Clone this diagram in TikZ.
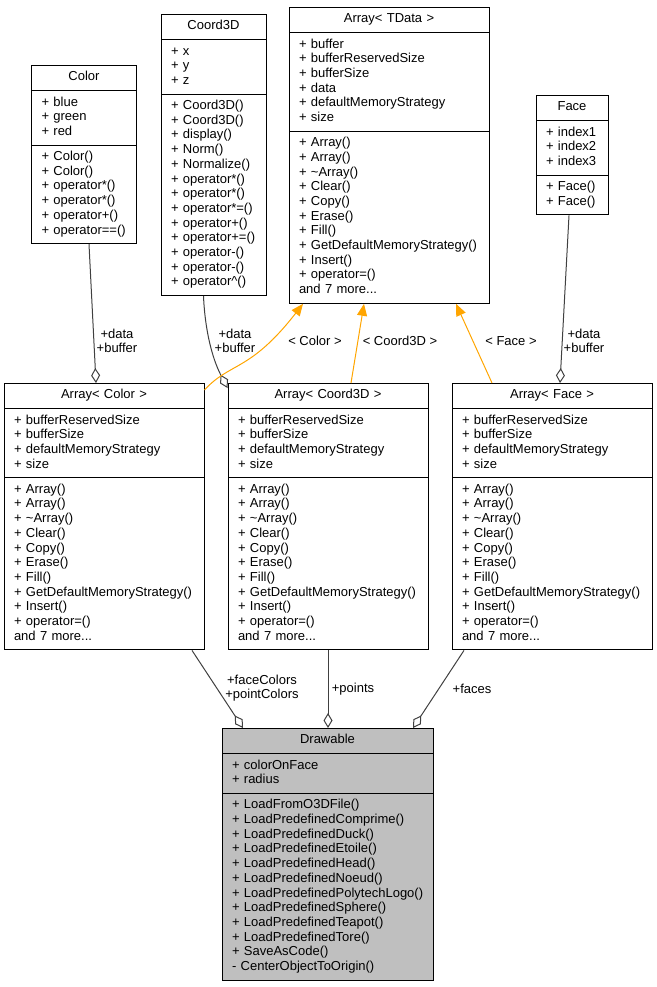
\documentclass[tikz,border=0pt]{standalone}
\usepackage{fontspec}
\setmainfont{Liberation Sans}
\usetikzlibrary{arrows.meta, shapes.multipart}

\definecolor{edgegray}{RGB}{64,64,64}
\definecolor{tmplorange}{RGB}{255,165,0}
\definecolor{boxgray}{RGB}{191,191,191}

\hyphenpenalty=10000
\exhyphenpenalty=10000

% title / attributes / methods
\newcommand{\umlparts}[3]{\makebox[\linewidth][c]{\strut#1}\nodepart{two}\strut#2\strut\nodepart{three}\strut#3\strut}
\newcommand{\arrmethods}{+ Array()\\+ Array()\\+ \textasciitilde Array()\\+ Clear()\\+ Copy()\\+ Erase()\\+ Fill()\\+ GetDefaultMemoryStrategy()\\+ Insert()\\+ operator=()\\and 7 more...}
\newcommand{\arrattrs}{+ bufferReservedSize\\+ bufferSize\\+ defaultMemoryStrategy\\+ size}

\begin{document}
\begin{tikzpicture}[x=1pt,y=-1pt,
  classbox/.style={rectangle split, rectangle split parts=3, draw=black, line width=1pt,
    inner xsep=10pt, inner ysep=4.7pt, text width=#1, align=left, anchor=north,
    font=\fontsize{13}{14.7}\selectfont},
  member/.style={draw=edgegray, line width=1pt, -{Diamond[open, length=15pt, width=9pt]}},
  inherit/.style={draw=tmplorange, line width=1pt, -{Triangle[length=12pt, width=10pt, fill=tmplorange]}},
  lbl/.style={align=center, inner sep=0pt, font=\fontsize{13}{14}\selectfont}]
\useasboundingbox (0,0) rectangle (656,987);

% classes
\node[classbox=85] (color) at (84,65)
  {\umlparts{Color}{+ blue\\+ green\\+ red}{+ Color()\\+ Color()\\+ operator*()\\+ operator*()\\+ operator+()\\+ operator==()}};
\node[classbox=85] (coord) at (213.5,14)
  {\umlparts{Coord3D}{+ x\\+ y\\+ z}{+ Coord3D()\\+ Coord3D()\\+ display()\\+ Norm()\\+ Normalize()\\+ operator*()\\+ operator*()\\+ operator*=()\\+ operator+()\\+ operator+=()\\+ operator-()\\+ operator-()\\+ operator\textasciicircum()}};
\node[classbox=180] (tdata) at (389,7)
  {\umlparts{Array< TData >}{+ buffer\\+ bufferReservedSize\\+ bufferSize\\+ data\\+ defaultMemoryStrategy\\+ size}{\arrmethods}};
\node[classbox=52] (face) at (572,95)
  {\umlparts{Face}{+ index1\\+ index2\\+ index3}{+ Face()\\+ Face()}};

\node[classbox=180] (arrColor) at (104,383) {\umlparts{Array< Color >}{\arrattrs}{\arrmethods}};
\node[classbox=180] (arrCoord) at (328,383) {\umlparts{Array< Coord3D >}{\arrattrs}{\arrmethods}};
\node[classbox=180] (arrFace) at (552,383) {\umlparts{Array< Face >}{\arrattrs}{\arrmethods}};

\node[classbox=197, inner xsep=7pt, fill=boxgray] (drawable) at (327.5,728)
  {\umlparts{Drawable}{\hspace{3pt}+ colorOnFace\\\hspace*{3pt}+ radius}{\hspace{3pt}+ LoadFromO3DFile()\\\hspace*{3pt}+ LoadPredefinedComprime()\\\hspace*{3pt}+ LoadPredefinedDuck()\\\hspace*{3pt}+ LoadPredefinedEtoile()\\\hspace*{3pt}+ LoadPredefinedHead()\\\hspace*{3pt}+ LoadPredefinedNoeud()\\\hspace*{3pt}+ LoadPredefinedPolytechLogo()\\\hspace*{3pt}+ LoadPredefinedSphere()\\\hspace*{3pt}+ LoadPredefinedTeapot()\\\hspace*{3pt}+ LoadPredefinedTore()\\\hspace*{3pt}+ SaveAsCode()\\\hspace*{3pt}- CenterObjectToOrigin()}};

% members
\draw[member] ([xshift=5]color.south) -- ([xshift=-8]arrColor.north);
\draw[member] ([xshift=-10]coord.south) .. controls (205,330) and (212,358) .. ([yshift=-5]arrCoord.north west);
\draw[member] ([xshift=-3]face.south) -- ([xshift=8]arrFace.north);
\draw[member] ([xshift=88]arrColor.south) -- ([xshift=-84.5]drawable.north);
\draw[member] (arrCoord.south) -- (arrCoord.south |- drawable.north);
\draw[member] ([xshift=-88]arrFace.south) -- ([xshift=85.5]drawable.north);

% template instances
\draw[inherit] ([yshift=-7]arrColor.north east) .. controls (230,362) and (250,372) .. ([xshift=-86]tdata.south);
\draw[inherit] ([xshift=23]arrCoord.north) -- ([xshift=-25]tdata.south);
\draw[inherit] ([xshift=-60]arrFace.north) -- ([xshift=67]tdata.south);

% labels
\node[lbl] (lblColorData) at (117,341) {+data\\+buffer};
\node[lbl] (lblCoordData) at (235,341) {+data\\+buffer};
\node[lbl] (lblFaceData) at (584,341) {+data\\+buffer};
\node[lbl] (lblColorT) at (315,341) {< Color >};
\node[lbl] (lblCoordT) at (400,341) {< Coord3D >};
\node[lbl] (lblFaceT) at (511,341) {< Face >};
\node[lbl] (lblColors) at (262,688) {+faceColors\\+pointColors};
\node[lbl] (lblPoints) at (353,689) {+points};
\node[lbl] (lblFaces) at (472,689) {+faces};
\end{tikzpicture}
\end{document}
